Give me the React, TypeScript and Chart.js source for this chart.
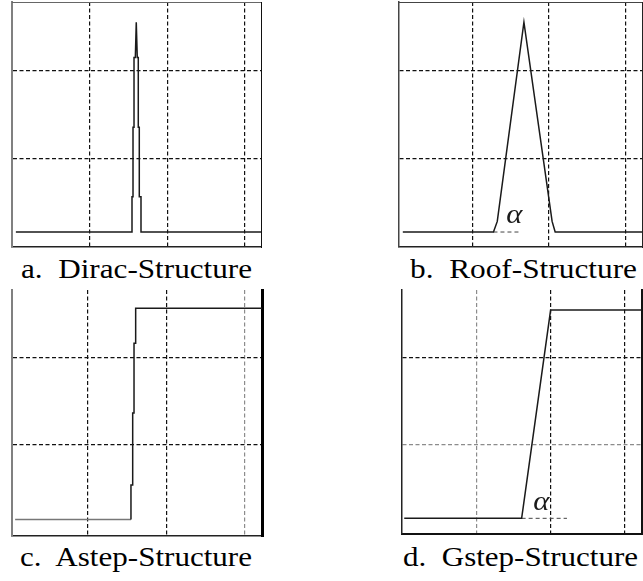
import React, { useEffect, useLayoutEffect, useRef } from "react";
import { Chart, registerables } from "chart.js";

Chart.register(...registerables);

// Grid positions shared by the four panels
const gridX = [1, 2, 3];
const gridY = [1, 2];

// a. Dirac-Structure: narrow stepped pulse
const diracX = [0.05, 1.547, 1.547, 1.56, 1.56, 1.573, 1.573, 1.59, 1.602, 1.615, 1.628, 1.628, 1.641, 1.641, 1.663, 1.663, 3.21];
const diracY = [0.17, 0.17, 0.57, 0.57, 1.36, 1.36, 2.15, 2.15, 2.55, 2.15, 2.15, 1.36, 1.36, 0.57, 0.57, 0.17, 0.17];

// b. Roof-Structure: triangular roof with slope angle α
const roofX = [0.08, 1.27, 1.32, 1.67, 2.04, 2.08, 3.22];
const roofY = [0.17, 0.17, 0.29, 2.55, 0.29, 0.17, 0.17];
const roofRefX = [1.27, 1.62];
const roofRefY = [0.17, 0.17];
const roofAlpha = { x: 1.544, y: 0.27 };

// c. Astep-Structure: abrupt step
const astepX = [0.07, 1.548, 1.548, 1.57, 1.57, 1.587, 1.587, 1.608, 1.608, 3.22];
const astepY = [0.14, 0.14, 0.535, 0.535, 1.36, 1.36, 2.16, 2.16, 2.56, 2.56];

// d. Gstep-Structure: gradual step with slope angle α
const gstepX = [0.03, 1.61, 1.63, 2.0, 3.23];
const gstepY = [0.15, 0.15, 0.27, 2.54, 2.54];
const gstepRefX = [1.61, 2.22];
const gstepRefY = [0.15, 0.15];
const gstepAlpha = { x: 1.875, y: 0.25 };

const captions = ["a.  Dirac-Structure", "b.  Roof-Structure", "c.  Astep-Structure", "d.  Gstep-Structure"];

const SERIF = '"Liberation Serif", Tinos, "Nimbus Roman", "Times New Roman", "DejaVu Serif", serif';
const DARK = "#111";
const LIGHT = "#8c8c8c";
const GRID_DASH = [4, 2.5];
const PAD = 3;

type Edge = { color: string; width: number } | null;

interface PanelSpec {
  box: { left: number; top: number; right: number; bottom: number };
  xRange: [number, number];
  yRange: [number, number];
  xs: number[];
  ys: number[];
  leadColor?: string;
  refX?: number[];
  refY?: number[];
  alpha?: { x: number; y: number };
  gridXColors: string[];
  gridYColors: string[];
  edges: { left: Edge; right: Edge; top: Edge; bottom: Edge };
}

const toPoints = (xs: number[], ys: number[]) => xs.map((x, i) => ({ x, y: ys[i] }));

// Draws the slope-angle symbol next to the rising edge
const alphaPlugin = {
  id: "alphaMark",
  afterDatasetsDraw(chart: any, _args: any, opts: any) {
    if (!opts || opts.x == null) return;
    const { ctx, scales } = chart;
    const px = scales.x.getPixelForValue(opts.x);
    const py = scales.y.getPixelForValue(opts.y);
    ctx.save();
    ctx.font = `italic 28px ${SERIF}`;
    ctx.fillStyle = "#1a1a1a";
    ctx.textAlign = "center";
    ctx.textBaseline = "alphabetic";
    ctx.translate(px, py);
    ctx.scale(1.1, 1);
    ctx.fillText("α", 0, 0);
    ctx.restore();
  },
};

function edgeAxis(edge: Edge, position: string, range: [number, number]) {
  return {
    type: "linear",
    position,
    display: !!edge,
    min: range[0],
    max: range[1],
    ticks: { display: false },
    grid: { display: false, drawTicks: false },
    border: { display: !!edge, color: edge ? edge.color : DARK, width: edge ? edge.width : 1 },
  };
}

function Panel({ spec }: { spec: PanelSpec }) {
  const ref = useRef<HTMLCanvasElement>(null);
  const { box } = spec;
  const width = box.right - box.left + PAD * 2;
  const height = box.bottom - box.top + PAD * 2;

  useEffect(() => {
    if (!ref.current) return;
    const datasets: any[] = [
      {
        data: toPoints(spec.xs, spec.ys),
        showLine: true,
        borderColor: "#1a1a1a",
        borderWidth: 1.5,
        pointRadius: 0,
        tension: 0,
        segment: spec.leadColor
          ? { borderColor: (c: any) => (c.p0DataIndex === 0 ? spec.leadColor : "#1a1a1a") }
          : undefined,
      },
    ];
    if (spec.refX && spec.refY) {
      datasets.push({
        data: toPoints(spec.refX, spec.refY),
        showLine: true,
        borderColor: "#444",
        borderWidth: 1,
        borderDash: [4, 3],
        pointRadius: 0,
      });
    }
    const chart = new Chart(ref.current, {
      type: "scatter",
      data: { datasets },
      plugins: [alphaPlugin as any],
      options: {
        animation: false,
        responsive: false,
        maintainAspectRatio: false,
        events: [],
        layout: { padding: PAD },
        plugins: {
          legend: { display: false },
          tooltip: { enabled: false },
          alphaMark: spec.alpha ? { x: spec.alpha.x, y: spec.alpha.y } : {},
        } as any,
        scales: {
          x: {
            type: "linear",
            position: "bottom",
            min: spec.xRange[0],
            max: spec.xRange[1],
            afterBuildTicks: (s: any) => {
              s.ticks = gridX.map((value) => ({ value }));
            },
            ticks: { display: false },
            grid: {
              drawTicks: false,
              lineWidth: 1.2,
              color: (c: any) => spec.gridXColors[c.index] || DARK,
            },
            border: {
              display: !!spec.edges.bottom,
              color: spec.edges.bottom ? spec.edges.bottom.color : DARK,
              width: spec.edges.bottom ? spec.edges.bottom.width : 1,
              dash: GRID_DASH,
            },
          },
          y: {
            type: "linear",
            position: "left",
            min: spec.yRange[0],
            max: spec.yRange[1],
            afterBuildTicks: (s: any) => {
              s.ticks = gridY.map((value) => ({ value }));
            },
            ticks: { display: false },
            grid: {
              drawTicks: false,
              lineWidth: 1.2,
              color: (c: any) => spec.gridYColors[c.index] || DARK,
            },
            border: {
              display: !!spec.edges.left,
              color: spec.edges.left ? spec.edges.left.color : DARK,
              width: spec.edges.left ? spec.edges.left.width : 1,
              dash: GRID_DASH,
            },
          },
          xTop: edgeAxis(spec.edges.top, "top", spec.xRange),
          yRight: edgeAxis(spec.edges.right, "right", spec.yRange),
        } as any,
      },
    });
    return () => chart.destroy();
  }, [spec]);

  return (
    <canvas
      ref={ref}
      width={width}
      height={height}
      style={{ position: "absolute", left: box.left - PAD, top: box.top - PAD, width, height }}
    />
  );
}

function Caption({ text, left, baseline, width }: { text: string; left: number; baseline: number; width: number }) {
  const ref = useRef<HTMLSpanElement>(null);
  const size = 27;
  useLayoutEffect(() => {
    const el = ref.current;
    if (!el) return;
    el.style.transform = "none";
    const w = el.getBoundingClientRect().width;
    if (w > 0) el.style.transform = `scaleX(${width / w})`;
  }, [text, width]);
  return (
    <span
      ref={ref}
      style={{
        position: "absolute",
        left,
        top: baseline - size * 0.8375,
        fontFamily: SERIF,
        fontSize: size,
        lineHeight: `${size}px`,
        whiteSpace: "pre",
        transformOrigin: "left top",
        color: "#000",
      }}
    >
      {text}
    </span>
  );
}

const panels: PanelSpec[] = [
  {
    box: { left: 12, top: 2, right: 261, bottom: 247 },
    xRange: [0, 3.21],
    yRange: [0, 2.78],
    xs: diracX,
    ys: diracY,
    gridXColors: [DARK, DARK, DARK],
    gridYColors: [DARK, DARK],
    edges: {
      left: { color: "#808080", width: 2 },
      right: { color: "#111", width: 1 },
      top: { color: "#666", width: 1 },
      bottom: { color: "#222", width: 1.5 },
    },
  },
  {
    box: { left: 399, top: 2, right: 642, bottom: 247 },
    xRange: [0.03, 3.22],
    yRange: [0, 2.78],
    xs: roofX,
    ys: roofY,
    refX: roofRefX,
    refY: roofRefY,
    alpha: roofAlpha,
    gridXColors: [DARK, DARK, DARK],
    gridYColors: [DARK, DARK],
    edges: {
      left: { color: "#444", width: 1.5 },
      right: { color: "#222", width: 1 },
      top: { color: "#444", width: 1 },
      bottom: { color: "#222", width: 1.5 },
    },
  },
  {
    box: { left: 12, top: 290, right: 262, bottom: 536 },
    xRange: [0.03, 3.22],
    yRange: [-0.05, 2.77],
    xs: astepX,
    ys: astepY,
    leadColor: "#777",
    gridXColors: [DARK, DARK, LIGHT],
    gridYColors: [DARK, DARK],
    edges: {
      left: { color: "#808080", width: 2 },
      right: { color: "#000", width: 3 },
      top: null,
      bottom: { color: "#222", width: 1.5 },
    },
  },
  {
    box: { left: 402, top: 290, right: 642, bottom: 534 },
    xRange: [0, 3.23],
    yRange: [-0.03, 2.77],
    xs: gstepX,
    ys: gstepY,
    refX: gstepRefX,
    refY: gstepRefY,
    alpha: gstepAlpha,
    gridXColors: [LIGHT, DARK, DARK],
    gridYColors: [LIGHT, DARK],
    edges: {
      left: { color: "#222", width: 1.5 },
      right: { color: "#111", width: 2 },
      top: null,
      bottom: { color: "#111", width: 2 },
    },
  },
];

const captionPlacement = [
  { left: 20.7, baseline: 279, width: 231 },
  { left: 410, baseline: 279, width: 227 },
  { left: 20, baseline: 567, width: 232 },
  { left: 403.3, baseline: 567, width: 235 },
];

export default function App() {
  return (
    <div
      style={{
        position: "fixed",
        left: 0,
        top: 0,
        width: 643,
        height: 581,
        overflow: "hidden",
        background: "#fff",
      }}
    >
      {panels.map((p, i) => (
        <Panel key={i} spec={p} />
      ))}
      {captions.map((t, i) => (
        <Caption key={t} text={t} {...captionPlacement[i]} />
      ))}
    </div>
  );
}
